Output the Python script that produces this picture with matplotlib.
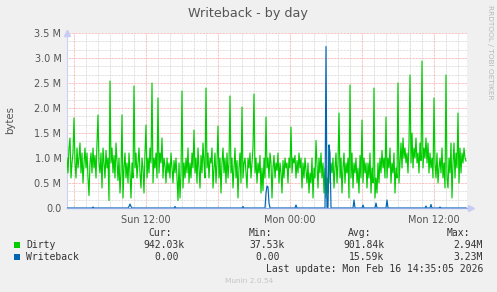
import numpy as np
import matplotlib
matplotlib.use('Agg')
import matplotlib.pyplot as plt
from matplotlib.patches import Rectangle

W, H = 497, 292

title = "Writeback - by day"
ylabel = "bytes"
series_names = ["Dirty", "Writeback"]
series_colors = ["#00CC00", "#0066B3"]

# time axis: hours relative to Mon 00:00, 5-minute samples
start_hour = -18.5833
step_hours = 5.0 / 60.0

# Dirty (millions of bytes), one value per 5 minutes
dirty = [
    1.0, 0.7, 1.2, 1.4, 0.6, 0.9, 1.1, 1.8, 0.9, 0.6, 1.2, 0.8, 1.0, 1.3, 0.7, 1.1, 0.5, 0.9, 1.2, 0.8,
    1.1, 0.6, 0.25, 0.9, 1.1, 0.7, 1.2, 0.8, 1.05, 0.6, 1.3, 1.86, 0.9, 0.7, 1.1, 0.4, 1.2, 0.9, 0.6, 1.15,
    0.8, 1.0, 0.15, 2.54, 0.9, 1.2, 0.7, 1.05, 0.6, 1.3, 0.95, 0.55, 1.0, 0.3, 0.7, 1.86, 0.2, 0.8, 1.1, 0.6,
    0.9, 0.5, 1.1, 0.7, 0.2, 0.9, 0.6, 2.44, 0.8, 1.1, 0.6, 0.9, 1.2, 0.7, 0.4, 1.0, 0.8, 0.3, 1.1, 1.66,
    0.6, 1.0, 0.7, 1.2, 0.9, 2.5, 0.5, 1.0, 0.8, 1.1, 0.6, 2.2, 0.7, 1.1, 0.9, 1.4, 0.6, 1.0, 0.85, 0.5,
    1.0, 0.7, 0.9, 0.6, 1.1, 0.8, 0.5, 0.95, 0.7, 1.0, 0.6, 0.15, 0.9, 0.2, 0.7, 2.34, 0.4, 0.9, 0.6, 1.0,
    0.7, 1.2, 0.5, 0.9, 0.6, 1.1, 0.8, 1.56, 0.7, 1.0, 0.5, 1.2, 0.8, 0.4, 1.05, 0.7, 1.3, 0.9, 0.6, 2.4,
    0.8, 1.1, 0.6, 1.0, 0.9, 1.2, 0.4, 0.8, 1.1, 0.5, 0.9, 1.64, 0.6, 1.0, 0.3, 0.9, 1.2, 0.7, 1.0, 0.5,
    1.1, 0.6, 0.9, 2.24, 0.7, 1.0, 0.4, 0.8, 1.2, 0.6, 0.95, 0.2, 0.8, 1.1, 0.5, 2.02, 0.6, 0.9, 1.0, 0.7,
    0.4, 1.0, 0.8, 1.1, 0.6, 0.9, 1.2, 2.28, 0.7, 1.0, 0.5, 0.9, 0.7, 1.05, 0.3, 0.8, 0.35, 1.0, 0.6, 1.82,
    0.8, 1.0, 0.6, 1.1, 0.9, 0.2, 0.8, 1.05, 0.6, 0.9, 0.75, 1.1, 0.5, 0.9, 0.7, 0.3, 0.95, 0.6, 1.0, 0.8,
    0.9, 0.5, 1.0, 0.8, 1.62, 0.7, 1.0, 0.9, 1.05, 0.6, 0.95, 0.7, 1.1, 0.8, 1.0, 0.4, 0.9, 0.6, 1.0, 0.75,
    0.5, 0.9, 0.3, 0.7, 0.5, 1.0, 0.2, 0.8, 0.6, 1.35, 0.9, 0.4, 1.0, 0.7, 1.1, 0.6, 0.9, 0.3, 0.8, 0.2,
    0.6, 0.3, 1.26, 0.5, 0.9, 0.7, 1.0, 0.4, 0.8, 1.1, 0.5, 0.9, 1.9, 0.6, 1.0, 0.3, 0.8, 1.1, 0.5, 0.9,
    0.7, 1.0, 0.2, 2.46, 0.6, 1.1, 0.4, 0.9, 0.7, 1.0, 0.5, 0.8, 0.3, 1.05, 0.6, 1.76, 0.5, 1.0, 0.7, 0.9,
    0.4, 0.9, 0.6, 1.1, 0.3, 0.8, 0.5, 2.4, 0.2, 0.6, 0.3, 0.9, 0.5, 1.0, 0.7, 1.15, 0.8, 1.0, 0.6, 1.82,
    0.6, 1.0, 0.8, 1.2, 0.5, 0.9, 0.7, 1.1, 0.3, 0.8, 0.6, 2.5, 0.5, 0.9, 1.3, 0.8, 1.4, 1.0, 1.2, 0.9,
    1.1, 0.7, 1.3, 2.66, 0.9, 1.5, 0.8, 1.2, 1.0, 1.4, 0.9, 1.1, 0.7, 1.3, 0.95, 2.94, 0.8, 1.2, 1.0, 1.4,
    0.9, 1.3, 0.7, 1.1, 0.8, 1.0, 0.6, 2.2, 0.9, 0.6, 1.1, 0.5, 0.8, 1.0, 0.7, 1.2, 0.6, 0.9, 0.4, 2.66,
    0.6, 0.4, 1.0, 0.7, 1.3, 0.2, 0.9, 1.3, 0.6, 1.1, 0.8, 1.9, 0.5, 1.2, 0.7, 1.1, 0.9, 1.2, 1.0, 0.94,
]

# Writeback (millions of bytes): zero except at these sample indices
writeback_idx = [26, 62, 63, 64, 108, 176, 199, 200, 201, 202, 229, 259, 262, 263,
                 287, 296, 309, 320, 359, 364, 373]
writeback_val = [0.02, 0.03, 0.08, 0.03, 0.03, 0.03, 0.3, 0.44, 0.42, 0.1, 0.06, 3.23, 1.26, 1.1,
                 0.16, 0.06, 0.1, 0.16, 0.04, 0.07, 0.02]

tick_hours = [-12, 0, 12]
tick_labels = ["Sun 12:00", "Mon 00:00", "Mon 12:00"]
ytick_vals = [0, 0.5, 1.0, 1.5, 2.0, 2.5, 3.0, 3.5]
ytick_labels = ["0.0", "0.5 M", "1.0 M", "1.5 M", "2.0 M", "2.5 M", "3.0 M", "3.5 M"]

legend_headers = ["Cur:", "Min:", "Avg:", "Max:"]
legend_rows = [
    ["942.03k", "37.53k", "901.84k", "2.94M"],
    ["0.00 ", "0.00 ", "15.59k", "3.23M"],
]
last_update = "Last update: Mon Feb 16 14:35:05 2026"
footer = "Munin 2.0.54"
side_text = "RRDTOOL / TOBI OETIKER"

# ---------------------------------------------------------------
n = len(dirty)
t = start_hour + step_hours * np.arange(n)
dirty_arr = np.array(dirty) * 1e6
wb = np.zeros(n)
wb[np.array(writeback_idx)] = np.array(writeback_val)
wb = wb * 1e6

fig = plt.figure(figsize=(W / 100, H / 100), dpi=100)
fig.patch.set_facecolor("#F0F0F0")

def fx(x):
    return x / W

def fy(y):
    return 1 - y / H

L, R, T, B = 67, 467, 33, 208
ax = fig.add_axes([fx(L), fy(B), (R - L) / W, (B - T) / H])
ax.set_facecolor("white")
ax.set_xlim((L - 290) / 12.0, (R - 290) / 12.0)
ax.set_ylim(0, 3.5e6)

dots = (0, (0.72, 0.72))
# minor grid
for h in np.arange(-18, 15, 1):
    if h % 6 != 0:
        ax.axvline(h, color="#D6D6D6", lw=0.72, ls=dots, zorder=1)
for v in np.arange(0, 3.5001, 0.5 / 3):
    if abs(v / 0.5 - round(v / 0.5)) > 1e-6:
        ax.axhline(v * 1e6, color="#D6D6D6", lw=0.72, ls=dots, zorder=1)
# major grid
for h in np.arange(-18, 15, 6):
    ax.axvline(h, color="#F7AAAA", lw=0.72, ls=dots, zorder=1.5)
for v in ytick_vals:
    ax.axhline(v * 1e6, color="#F7AAAA", lw=0.72, ls=dots, zorder=1.5)

ax.plot(t, dirty_arr, color=series_colors[0], lw=0.85, zorder=3)
ax.plot(t, wb, color=series_colors[1], lw=0.85, zorder=4)

for s in ["top", "right"]:
    ax.spines[s].set_visible(False)
ax.spines["left"].set_color("#CCD0F4")
ax.spines["left"].set_linewidth(0.8)
ax.spines["bottom"].set_color("#8FA8E8")
ax.spines["bottom"].set_linewidth(0.9)
ax.spines["bottom"].set_zorder(5)

ax.set_xticks(tick_hours)
ax.set_xticklabels(tick_labels)
ax.set_yticks([v * 1e6 for v in ytick_vals])
ax.set_yticklabels(ytick_labels)
ax.tick_params(axis="both", length=0, labelsize=7, labelcolor="#555555", pad=5)
ax.tick_params(axis="y", pad=4)

# arrows
ax.plot([0], [1.0], marker="^", ms=4, color="#C8CCF4", transform=ax.transAxes,
        clip_on=False, zorder=6)
ax.plot([1.01], [0.0], marker=">", ms=4, color="#C8CCF4", transform=ax.transAxes,
        clip_on=False, zorder=6)
ax.plot([0, 0], [1.0, 1.02], color="#CCD0F4", lw=0.8, transform=ax.transAxes, clip_on=False)

fig.text(fx(248), fy(13), title, ha="center", va="center", fontsize=9.2, color="#555555")
fig.text(fx(10), fy(120), ylabel, ha="center", va="center", rotation=90, fontsize=7.3,
         color="#555555")
fig.text(fx(490), fy(5), side_text, ha="center", va="top", rotation=270, fontsize=5.3,
         color="#B8B8B8")

mono = "DejaVu Sans Mono"
col_right = [184, 285, 384, 483]
hdr_right = [172, 272, 371, 470]
for xr, hdr in zip(hdr_right, legend_headers):
    fig.text(fx(xr), fy(233), hdr, ha="right", va="center", fontsize=7, family=mono,
             color="#333333")
row_y = [244.5, 256.5]
for ry, name, col, vals in zip(row_y, series_names, series_colors, legend_rows):
    fig.patches.append(Rectangle((fx(14), fy(ry + 3)), 6 / W, 6 / H, transform=fig.transFigure,
                                 facecolor=col, edgecolor="none"))
    fig.text(fx(26), fy(ry), name, ha="left", va="center", fontsize=7, family=mono,
             color="#333333")
    for xr, v in zip(col_right, vals):
        fig.text(fx(xr), fy(ry), v, ha="right", va="center", fontsize=7, family=mono,
                 color="#333333")
fig.text(fx(483), fy(268.5), last_update, ha="right", va="center", fontsize=7, family=mono,
         color="#333333")
fig.text(fx(249), fy(281), footer, ha="center", va="center", fontsize=5.3, color="#C4C4C4")

fig.savefig("out.png", dpi=100, facecolor=fig.get_facecolor())
